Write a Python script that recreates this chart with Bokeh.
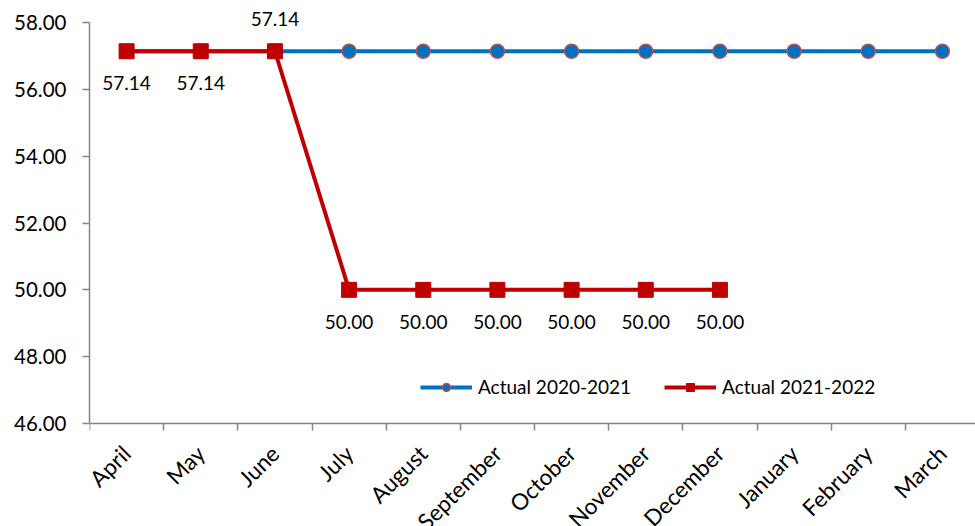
import math
from bokeh.plotting import figure
from bokeh.models import (Range1d, FixedTicker, PrintfTickFormatter, Legend,
                          LegendItem, ColumnDataSource, LabelSet)
from bokeh.core.properties import value
from bokeh.embed import file_html
from bokeh.resources import INLINE

# Monthly values for the two financial years
months = ["April", "May", "June", "July", "August", "September",
          "October", "November", "December", "January", "February", "March"]
actual_2020_21 = [57.14, 57.14, 57.14, 57.14, 57.14, 57.14,
                  57.14, 57.14, 57.14, 57.14, 57.14, 57.14]
actual_2021_22 = [57.14, 57.14, 57.14, 50.00, 50.00, 50.00,
                  50.00, 50.00, 50.00]
y_ticks = [46, 48, 50, 52, 54, 56, 58]

FONT = "Lato"
BLUE = "#0070C0"
RED = "#C00000"
AXIS = "#868686"

# The plotting frame runs a little past the axis extent on top and bottom so
# that data labels and rotated month names are not cut off; the axes
# themselves are bounded to 46-58.
Y_MIN, Y_MAX = 46, 58
PX_PER_UNIT = 401 / (Y_MAX - Y_MIN)
y_lo = Y_MIN - 103 / PX_PER_UNIT
y_hi = Y_MAX + 17 / PX_PER_UNIT

p = figure(width=975, height=526, output_backend="svg", toolbar_location=None,
           x_range=Range1d(-0.5, 11.446), y_range=Range1d(y_lo, y_hi),
           min_border_left=89, min_border_right=0, min_border_top=5,
           min_border_bottom=0)
p.outline_line_color = None
p.xgrid.visible = False
p.ygrid.visible = False
p.background_fill_color = "white"
p.border_fill_color = "white"

# y axis
ya = p.yaxis[0]
ya.bounds = (Y_MIN, Y_MAX)
ya.ticker = FixedTicker(ticks=y_ticks)
ya.formatter = PrintfTickFormatter(format="%.2f")
ya.axis_line_color = AXIS
ya.axis_line_width = 1.5
ya.major_tick_line_color = AXIS
ya.major_tick_line_width = 1.5
ya.major_tick_out = 7
ya.major_tick_in = 0
ya.minor_tick_line_color = None
ya.major_label_standoff = 16
ya.major_label_text_font = FONT
ya.major_label_text_font_size = "20.5px"
ya.major_label_text_color = "black"

# x axis at y = 46: labels at category centres, tick marks between categories
xa = p.xaxis[0]
xa.fixed_location = Y_MIN
xa.ticker = FixedTicker(ticks=list(range(len(months))),
                        minor_ticks=[i - 0.5 for i in range(len(months) + 1)])
xa.major_label_overrides = {i: m for i, m in enumerate(months)}
xa.axis_line_color = AXIS
xa.axis_line_width = 1.5
xa.major_tick_line_color = None
xa.major_tick_out = 0
xa.major_tick_in = 0
xa.minor_tick_line_color = AXIS
xa.minor_tick_line_width = 1.5
xa.minor_tick_out = 7
xa.minor_tick_in = 0
xa.major_label_orientation = math.pi / 4
xa.major_label_standoff = 19
xa.major_label_text_font = FONT
xa.major_label_text_font_size = "22.5px"
xa.major_label_text_color = "black"

x_a = list(range(len(actual_2020_21)))
x_b = list(range(len(actual_2021_22)))

# 2020-2021 series
l1 = p.line(x_a, actual_2020_21, line_color=BLUE, line_width=4)
m1 = p.scatter(x_a, actual_2020_21, marker="circle", size=14,
               fill_color=BLUE, line_color="#C0504D", line_width=1.5)

# 2021-2022 series
l2 = p.line(x_b, actual_2021_22, line_color=RED, line_width=4)
m2 = p.scatter(x_b, actual_2021_22, marker="square", size=15,
               fill_color=RED, line_color=RED, line_width=1)

# data labels for 2021-2022
placement = ["below", "below", "above"] + ["below"] * 6
src = ColumnDataSource(dict(
    x=x_b, y=actual_2021_22,
    text=[f"{v:.2f}" for v in actual_2021_22],
    dy=[-32 if pl == "below" else 32 for pl in placement],
))
labels = LabelSet(x="x", y="y", text="text", y_offset="dy", source=src,
                  text_align="center", text_baseline="middle",
                  text_font=value(FONT), text_font_size=value("19px"),
                  text_color=value("black"))
p.add_layout(labels)

legend = Legend(items=[
    LegendItem(label="Actual 2020-2021", renderers=[l1, m1]),
    LegendItem(label="Actual 2021-2022", renderers=[l2, m2]),
], orientation="horizontal", location=(331, 128))
legend.glyph_width = 52
legend.glyph_height = 20
legend.label_standoff = 6
legend.spacing = 33
legend.padding = 0
legend.margin = 0
legend.border_line_color = None
legend.background_fill_alpha = 0
legend.label_text_font = FONT
legend.label_text_font_size = "19px"
legend.label_text_color = "black"
p.add_layout(legend)

open("out.html", "w").write(file_html(p, INLINE))
